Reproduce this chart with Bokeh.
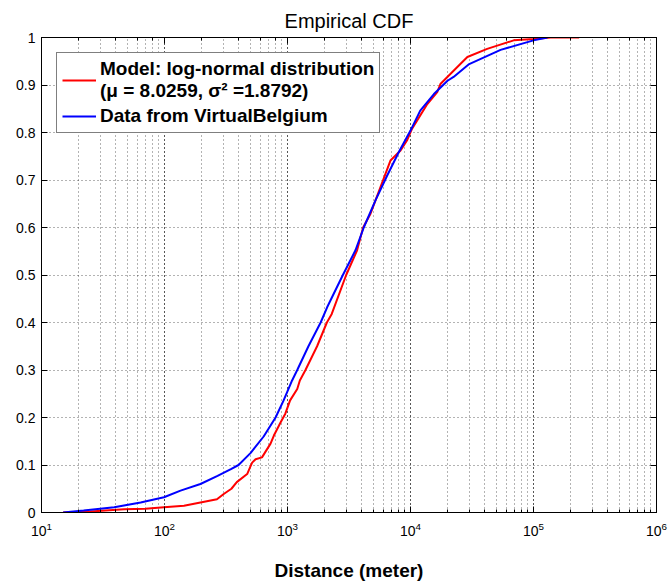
from bokeh.plotting import figure
from bokeh.models import (LogAxis, LinearAxis, FixedTicker, LogTicker,
                          CustomJSTickFormatter, Legend, LegendItem)
from bokeh.embed import file_html
from bokeh.resources import INLINE

# ---- data ----
data_x = [15, 22, 30, 39, 64, 99, 135, 196, 270, 350, 400, 500, 640, 800, 930,
          1090, 1200, 1480, 1860, 2100, 2820, 3570, 4170, 5190, 6450, 8040,
          10000, 12000, 15500, 20000, 22400, 30000, 54000, 100000, 130000]
data_y = [0.0, 0.004, 0.008, 0.011, 0.021, 0.032, 0.046, 0.060, 0.077, 0.092,
          0.100, 0.125, 0.160, 0.200, 0.236, 0.278, 0.300, 0.350, 0.400, 0.432,
          0.500, 0.552, 0.600, 0.657, 0.709, 0.759, 0.804, 0.846, 0.881, 0.909,
          0.917, 0.944, 0.974, 0.994, 1.0]

model_x = [15, 25, 47, 70, 99, 144, 196, 267, 303, 350, 387, 470, 500, 516, 550,
           620, 728, 775, 880, 960, 1050, 1200, 1260, 1400, 1740, 2090, 2290,
           3000, 3680, 4120, 4730, 5700, 6870, 8300, 9360, 10300, 11300, 13700,
           16500, 17500, 22400, 29000, 42000, 69000, 100000, 138000, 235000]
model_y = [0.0, 0.002, 0.0067, 0.008, 0.011, 0.014, 0.021, 0.028, 0.039, 0.050,
           0.064, 0.081, 0.097, 0.105, 0.112, 0.116, 0.145, 0.162, 0.190, 0.208,
           0.236, 0.260, 0.278, 0.300, 0.350, 0.400, 0.418, 0.500, 0.552, 0.600,
           0.629, 0.685, 0.741, 0.762, 0.783, 0.808, 0.825, 0.860, 0.885, 0.902,
           0.930, 0.959, 0.976, 0.994, 0.997, 1.0, 1.0]

y_ticks = [0, 0.1, 0.2, 0.3, 0.4, 0.5, 0.6, 0.7, 0.8, 0.9, 1.0]
title_text = "Empirical CDF"
x_label = "Distance (meter)"
model_label = "Model: log-normal distribution\n(\u03bc = 8.0259, \u03c3\u00b2 =1.8792)"
data_label = "Data from VirtualBelgium"

FONT = "Liberation Sans"

p = figure(width=668, height=583, x_axis_type="log", x_range=(10, 1e6),
           y_range=(0, 1), output_backend="svg", toolbar_location=None,
           min_border_left=41, min_border_right=12, min_border_top=37,
           min_border_bottom=71)

p.background_fill_color = "white"
p.border_fill_color = "white"
p.outline_line_color = "black"
p.outline_line_width = 1

# title
p.title.text = title_text
p.title.align = "center"
p.title.text_font = FONT
p.title.text_font_size = "20px"
p.title.text_font_style = "normal"
p.title.text_color = "black"
p.title.standoff = 11

# bottom x axis
bx = p.below[0]
bx.axis_label = x_label
bx.axis_label_text_font = FONT
bx.axis_label_text_font_size = "19px"
bx.axis_label_text_font_style = "bold"
bx.axis_label_text_color = "black"
bx.axis_label_standoff = 21
bx.major_label_text_font = FONT
bx.major_label_text_font_size = "14px"
bx.major_label_text_color = "black"
bx.major_label_standoff = 9
bx.major_tick_in = 6
bx.major_tick_out = 0
bx.minor_tick_in = 3
bx.minor_tick_out = 0
bx.axis_line_color = "black"

# left y axis
ly = p.left[0]
ly.ticker = FixedTicker(ticks=y_ticks)
ly.formatter = CustomJSTickFormatter(code="return String(Math.round(tick*10)/10);")
ly.major_label_text_font = FONT
ly.major_label_text_font_size = "14px"
ly.major_label_text_color = "black"
ly.major_label_standoff = 6
ly.major_tick_in = 6
ly.major_tick_out = 0
ly.minor_tick_line_color = None
ly.axis_line_color = "black"

blank = CustomJSTickFormatter(code="return '';")

ry = LinearAxis(ticker=FixedTicker(ticks=y_ticks), formatter=blank,
                major_tick_in=6, major_tick_out=0, minor_tick_line_color=None,
                major_label_text_font_size="0px", major_label_standoff=0)
p.add_layout(ry, "right")

tx = LogAxis(ticker=LogTicker(), formatter=blank, major_tick_in=6,
             major_tick_out=0, minor_tick_in=3, minor_tick_out=0,
             major_label_text_font_size="0px", major_label_standoff=0)
p.add_layout(tx, "above")

# grids
for g in (p.xgrid[0], p.ygrid[0]):
    g.grid_line_color = "black"
    g.grid_line_alpha = 0.6
    g.grid_line_dash = "1 3"
    g.grid_line_width = 1
p.xgrid[0].minor_grid_line_color = "black"
p.xgrid[0].minor_grid_line_alpha = 0.6
p.xgrid[0].minor_grid_line_dash = "1 3"
p.ygrid[0].ticker = FixedTicker(ticks=y_ticks)

r_model = p.line(model_x, model_y, line_color="#ff0000", line_width=2)
r_data = p.line(data_x, data_y, line_color="#0000ff", line_width=2)

legend = Legend(items=[LegendItem(label=model_label, renderers=[r_model]),
                       LegendItem(label=data_label, renderers=[r_data])],
                location="top_left")
legend.margin = 15
legend.padding = 5
legend.spacing = 3
legend.glyph_width = 34
legend.label_standoff = 4
legend.label_text_font = FONT
legend.label_text_font_size = "19px"
legend.label_text_font_style = "bold"
legend.label_text_color = "black"
legend.label_text_line_height = 1.3
legend.border_line_color = "black"
legend.border_line_width = 1
legend.background_fill_alpha = 1.0
p.add_layout(legend, "center")

open("out.html", "w").write(file_html(p, INLINE))
